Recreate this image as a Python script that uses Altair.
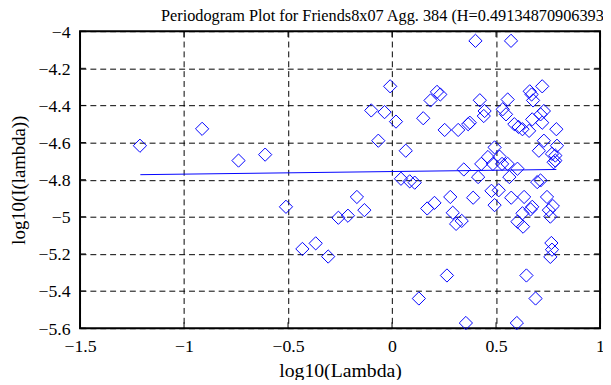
import altair as alt
import pandas as pd

title_text = "Periodogram Plot for Friends8x07 Agg. 384 (H=0.491348709063935)"

log_lambda = [
    -1.212, -0.913, -0.738, -0.610, -0.510, -0.431, -0.367, -0.307, -0.258, -0.212,
    -0.169, -0.133, -0.100, -0.066, -0.036, -0.009, 0.019, 0.043, 0.066, 0.085,
    0.109, 0.129, 0.150, 0.169, 0.204, 0.185, 0.216, 0.232, 0.253, 0.264,
    0.280, 0.292, 0.308, 0.318, 0.335, 0.345, 0.355, 0.366, 0.374, 0.390,
    0.401, 0.414, 0.422, 0.429, 0.445, 0.441, 0.461, 0.478, 0.485, 0.493,
    0.493, 0.513, 0.517, 0.529, 0.532, 0.548, 0.556, 0.564, 0.572, 0.573,
    0.588, 0.600, 0.603, 0.603, 0.608, 0.627, 0.627, 0.630, 0.635, 0.646,
    0.659, 0.662, 0.666, 0.671, 0.674, 0.674, 0.678, 0.690, 0.698, 0.706,
    0.714, 0.714, 0.722, 0.722, 0.730, 0.730, 0.745, 0.754, 0.761, 0.766,
    0.769, 0.761, 0.769, 0.773, 0.777, 0.785, 0.790, 0.793, 0.785, 0.556,
]
log_i = [
    -4.617, -4.526, -4.697, -4.665, -4.946, -5.173, -5.143, -5.214, -5.005, -4.994,
    -4.893, -4.964, -4.427, -4.590, -4.436, -4.297, -4.487, -4.795, -4.644, -4.809,
    -4.816, -5.440, -4.469, -4.955, -4.925, -4.373, -4.327, -4.341, -4.532, -5.316,
    -4.893, -4.978, -5.038, -4.532, -5.022, -4.745, -5.572, -4.501, -4.493, -4.897,
    -4.052, -4.786, -4.372, -4.715, -4.430, -4.457, -4.678, -4.860, -4.715, -4.626,
    -4.937, -4.857, -4.676, -4.715, -4.421, -4.448, -4.368, -4.786, -4.052, -4.897,
    -4.501, -5.572, -4.741, -5.026, -4.516, -4.528, -4.981, -5.053, -4.893, -5.316,
    -4.537, -4.324, -4.960, -4.341, -4.475, -4.946, -4.373, -5.440, -4.813, -4.644,
    -4.448, -4.804, -4.297, -4.493, -4.430, -4.590, -4.893, -4.964, -4.999, -5.141,
    -5.177, -5.216, -4.661, -4.942, -4.706, -4.670, -4.528, -4.617, -4.697, -4.715,
]

fit_x = [-1.21, 0.79]
fit_y = [-4.773, -4.745]

x_ticks = [-1.5, -1.0, -0.5, 0.0, 0.5, 1.0]
y_ticks = [-5.6, -5.4, -5.2, -5.0, -4.8, -4.6, -4.4, -4.2, -4.0]

FONT = "Liberation Serif"
W, H = 527, 301
BLUE = "#0000ff"

pts_df = pd.DataFrame({"x": log_lambda, "y": log_i})
fit_df = pd.DataFrame({"x": fit_x, "y": fit_y})
yt_df = pd.DataFrame({"y": y_ticks})
xt_df = pd.DataFrame({"x": x_ticks})

xs = alt.Scale(domain=[-1.5, 1.0], nice=False, zero=False)
ys = alt.Scale(domain=[-5.6, -4.0], nice=False, zero=False)

x_axis = alt.Axis(
    values=x_ticks, format="~g", domain=False, ticks=False,
    grid=True, gridColor="black", gridDash=[6, 4], gridOpacity=1, gridWidth=1,
    labelFont=FONT, labelFontSize=18, labelColor="black", labelPadding=10,
    labelBaseline="top", labelFlush=False,
    title="log10(Lambda)", titleFont=FONT, titleFontSize=20, titleFontWeight="normal",
    titleColor="black", titlePadding=5,
)
y_axis = alt.Axis(
    values=y_ticks, format="~g", domain=False, ticks=False,
    grid=True, gridColor="black", gridDash=[6, 4], gridOpacity=1, gridWidth=1,
    labelFont=FONT, labelFontSize=18, labelColor="black", labelPadding=10,
    labelOffset=1, labelFlush=False,
    title="log10(I(lambda))", titleFont=FONT, titleFontSize=19, titleFontWeight="normal",
    titleColor="black", titlePadding=10,
)

X = alt.X("x:Q", scale=xs, axis=x_axis)
Y = alt.Y("y:Q", scale=ys, axis=y_axis)

points = alt.Chart(pts_df).mark_point(
    shape="diamond", filled=False, color=BLUE, size=180, strokeWidth=1, opacity=1
).encode(x=X, y=Y)

fit = alt.Chart(fit_df).mark_line(color=BLUE, strokeWidth=1).encode(x=X, y=Y)

tick_style = dict(color="black", strokeWidth=1)
left_ticks = alt.Chart(yt_df).mark_rule(**tick_style).encode(
    y=Y, x=alt.value(0), x2=alt.value(6)
)
right_ticks = alt.Chart(yt_df).mark_rule(**tick_style).encode(
    y=Y, x=alt.value(W - 6), x2=alt.value(W)
)
bottom_ticks = alt.Chart(xt_df).mark_rule(**tick_style).encode(
    x=X, y=alt.value(H - 6), y2=alt.value(H)
)
top_ticks = alt.Chart(xt_df).mark_rule(**tick_style).encode(
    x=X, y=alt.value(0), y2=alt.value(6)
)

chart = alt.layer(
    points, fit, left_ticks, right_ticks, bottom_ticks, top_ticks
).properties(
    width=W,
    height=H,
    autosize=alt.AutoSizeParams(type="none"),
    padding={"left": 73, "top": 21, "right": 3, "bottom": 50},
    background="white",
    title=alt.TitleParams(
        text=title_text, font=FONT, fontSize=16.5, fontWeight="normal", color="black",
        anchor="start", frame="group", dx=82, offset=-1,
    ),
).configure_view(
    stroke="black", strokeWidth=2
)

chart.save("out.html", embed_options={"renderer": "svg", "actions": False})
